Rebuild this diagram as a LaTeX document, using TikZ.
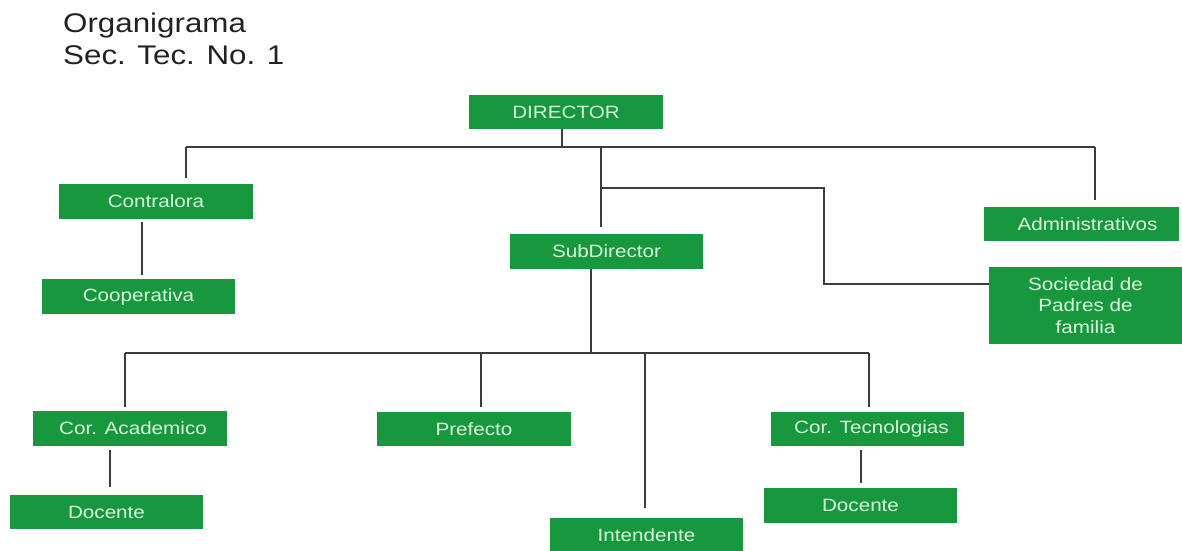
\documentclass[tikz,border=0pt]{standalone}
\usepackage{fontspec}
\setmainfont{Liberation Sans}[FakeStretch=1.16]
\definecolor{boxgreen}{RGB}{24,152,62}
\definecolor{boxtext}{RGB}{218,246,218}
\definecolor{linegray}{RGB}{60,60,60}
\definecolor{titlegray}{RGB}{34,34,34}
\begin{document}
\begin{tikzpicture}[x=1pt,y=-1pt,
  unit/.style={rectangle, fill=boxgreen, text=boxtext, inner sep=0pt,
    font=\fontsize{17.8}{21.5}\selectfont, align=center},
  conn/.style={draw=linegray, line width=1.6pt}]
\useasboundingbox (0,0) rectangle (1182,550);
% title
\node[anchor=base west, text=titlegray, font=\fontsize{27}{31.5}\selectfont, align=left, inner sep=0pt] (title) at (63,64) {Organigrama\\Sec. Tec. No. 1};
% boxes
\node[unit, minimum width=194pt, minimum height=34pt] (dir) at (566,112) {DIRECTOR};
\node[unit, minimum width=193pt, minimum height=35pt] (sub) at (606.5,251.5) {SubDirector};
\node[unit, minimum width=194pt, minimum height=35pt] (contra) at (156,201.5) {Contralora};
\node[unit, minimum width=193pt, minimum height=35pt] (coop) at (138.5,296.5) {Cooperativa};
\node[unit, minimum width=195pt, minimum height=34pt] (admin) at (1081.5,224) {\hspace*{12pt}Administrativos};
\node[unit, minimum width=193pt, minimum height=77pt] (soc) at (1085.5,305.5) {Sociedad de\\Padres de\\familia};
\node[unit, minimum width=194pt, minimum height=35pt] (acad) at (130,428.5) {\hspace*{6pt}Cor. Academico};
\node[unit, minimum width=194pt, minimum height=34pt] (pref) at (474,429) {Prefecto};
\node[unit, minimum width=193pt, minimum height=35pt] (intend) at (646.5,535.5) {Intendente};
\node[unit, minimum width=193pt, minimum height=34pt] (tecn) at (867.5,429) {\hspace*{8pt}Cor. Tecnologias};
\node[unit, minimum width=193pt, minimum height=34pt] (docL) at (106.5,512) {Docente};
\node[unit, minimum width=193pt, minimum height=35pt] (docR) at (860.5,505.5) {Docente};
% junctions
\coordinate (jL) at (186,147);
\coordinate (jR) at (1095,147);
\coordinate (jM) at (601,147);
\coordinate (jS) at (824,188);
\coordinate (jS2) at (824,284);
\coordinate (bL) at (125,353);
\coordinate (bR) at (869,353);
\coordinate (bP) at (481,353);
\coordinate (bI) at (645,353);
% top level
\draw[conn] (jL) -- (jR);
\draw[conn] ([xshift=-4pt]dir.south) -- ([xshift=-4pt]dir.south |- jL);
\draw[conn, shorten >=6pt] (jL) -- (jL |- contra.north);
\draw[conn, shorten >=7pt] (jR) -- (jR |- admin.north);
\draw[conn, shorten >=7pt] (jM) -- (jM |- sub.north);
\draw[conn] (jM |- jS) -- (jS) -- (jS2) -- (jS2 -| soc.west);
\draw[conn, shorten <=3pt, shorten >=4pt] ([xshift=-14pt]contra.south) -- ([xshift=-14pt]contra.south |- coop.north);
% subdirector level
\draw[conn] ([xshift=-15.5pt]sub.south) -- ([xshift=-15.5pt]sub.south |- bL);
\draw[conn] (bL) -- (bR);
\draw[conn, shorten >=4pt] (bL) -- (bL |- acad.north);
\draw[conn, shorten >=5pt] (bP) -- (bP |- pref.north);
\draw[conn, shorten >=10pt] (bI) -- (bI |- intend.north);
\draw[conn, shorten >=5pt] (bR) -- (bR |- tecn.north);
\draw[conn, shorten <=4pt, shorten >=8pt] ([xshift=-20pt]acad.south) -- ([xshift=-20pt]acad.south |- docL.north);
\draw[conn, shorten <=4pt, shorten >=5pt] ([xshift=-6.5pt]tecn.south) -- ([xshift=-6.5pt]tecn.south |- docR.north);
\end{tikzpicture}
\end{document}
